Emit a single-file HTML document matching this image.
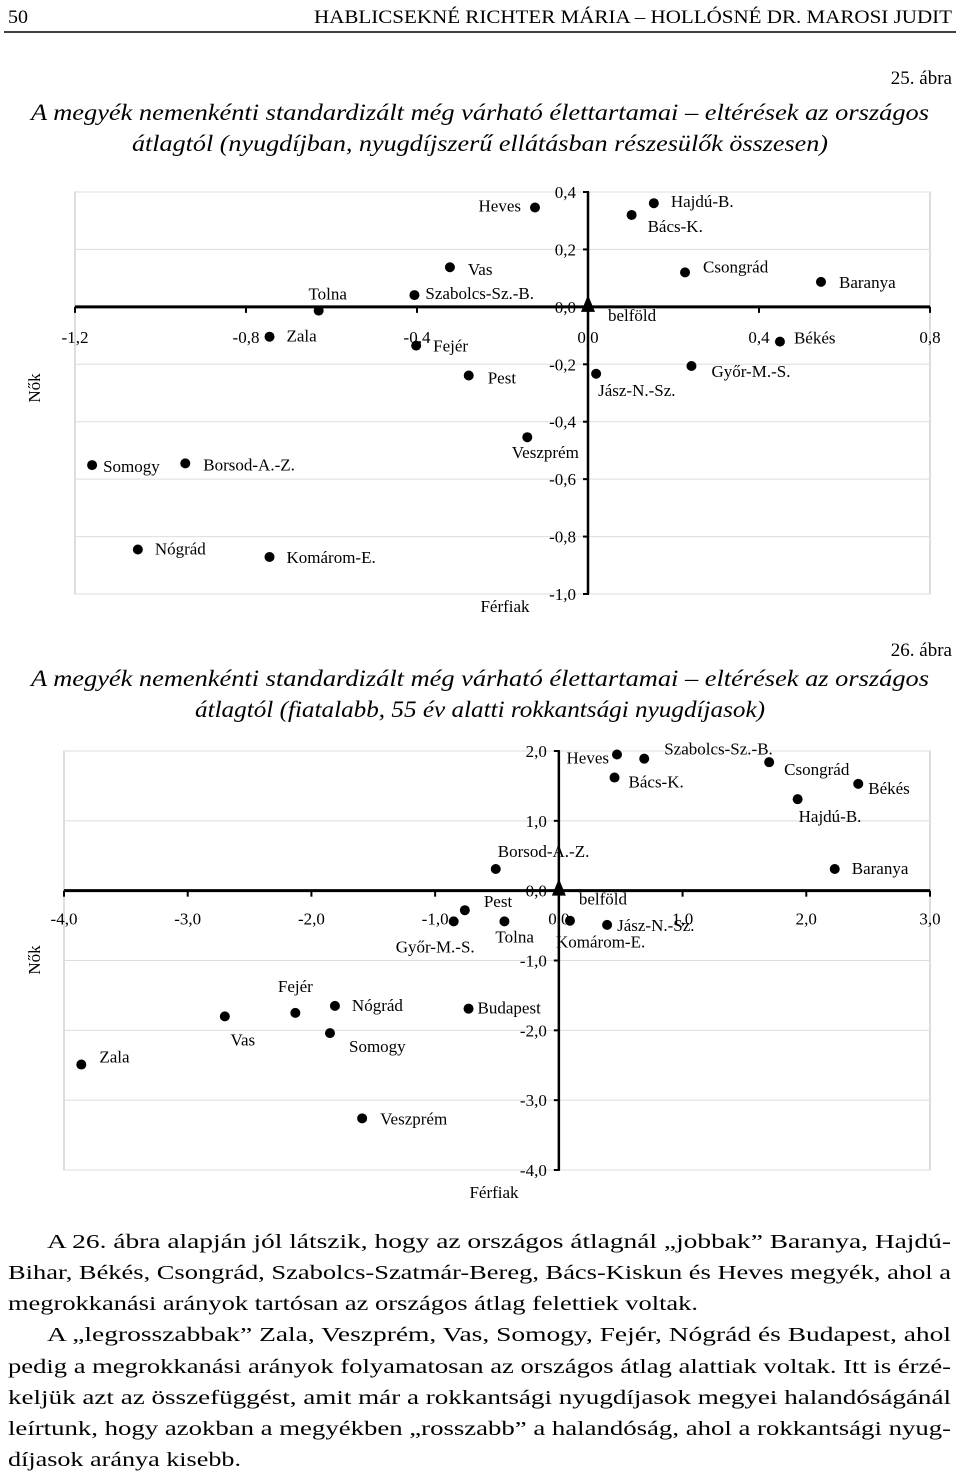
<!DOCTYPE html>
<html><head><meta charset="utf-8"><style>
html,body{margin:0;padding:0;background:#fff}
svg{display:block}
text{font-family:"Liberation Serif",serif;fill:#000}
</style></head><body>
<svg id="pg" width="960" height="1480" viewBox="0 0 960 1480">
<g>
<text x="8" y="23" font-size="19" textLength="20" lengthAdjust="spacingAndGlyphs">50</text>
<text x="952" y="23" font-size="19" text-anchor="end" textLength="638" lengthAdjust="spacingAndGlyphs">HABLICSEKNÉ RICHTER MÁRIA – HOLLÓSNÉ DR. MAROSI JUDIT</text>
<line x1="4" y1="32" x2="956" y2="32" stroke="#000" stroke-width="1.5"/>
</g>
<text x="952" y="84" font-size="19" text-anchor="end">25. ábra</text>
<text x="480" y="120" font-size="23" font-style="italic" text-anchor="middle" textLength="898" lengthAdjust="spacingAndGlyphs">A megyék nemenkénti standardizált még várható élettartamai – eltérések az országos</text>
<text x="480" y="151" font-size="23" font-style="italic" text-anchor="middle" textLength="696" lengthAdjust="spacingAndGlyphs">átlagtól (nyugdíjban, nyugdíjszerű ellátásban részesülők összesen)</text>
<g id="c1"></g>
<text x="952" y="656" font-size="19" text-anchor="end">26. ábra</text>
<text x="480" y="686" font-size="23" font-style="italic" text-anchor="middle" textLength="898" lengthAdjust="spacingAndGlyphs">A megyék nemenkénti standardizált még várható élettartamai – eltérések az országos</text>
<text x="480" y="717" font-size="23" font-style="italic" text-anchor="middle" textLength="570" lengthAdjust="spacingAndGlyphs">átlagtól (fiatalabb, 55 év alatti rokkantsági nyugdíjasok)</text>
<g id="c2"></g>
<g font-size="20">
<text x="47" y="1248" textLength="904" lengthAdjust="spacingAndGlyphs">A 26. ábra alapján jól látszik, hogy az országos átlagnál „jobbak” Baranya, Hajdú-</text>
<text x="8" y="1279" textLength="943" lengthAdjust="spacingAndGlyphs">Bihar, Békés, Csongrád, Szabolcs-Szatmár-Bereg, Bács-Kiskun és Heves megyék, ahol a</text>
<text x="8" y="1310" textLength="690" lengthAdjust="spacingAndGlyphs">megrokkanási arányok tartósan az országos átlag felettiek voltak.</text>
<text x="47" y="1341" textLength="904" lengthAdjust="spacingAndGlyphs">A „legrosszabbak” Zala, Veszprém, Vas, Somogy, Fejér, Nógrád és Budapest, ahol</text>
<text x="8" y="1373" textLength="943" lengthAdjust="spacingAndGlyphs">pedig a megrokkanási arányok folyamatosan az országos átlag alattiak voltak. Itt is érzé-</text>
<text x="8" y="1404" textLength="943" lengthAdjust="spacingAndGlyphs">keljük azt az összefüggést, amit már a rokkantsági nyugdíjasok megyei halandóságánál</text>
<text x="8" y="1435" textLength="943" lengthAdjust="spacingAndGlyphs">leírtunk, hogy azokban a megyékben „rosszabb” a halandóság, ahol a rokkantsági nyug-</text>
<text x="8" y="1466" textLength="233" lengthAdjust="spacingAndGlyphs">díjasok aránya kisebb.</text>
</g>
</svg>
<script>
// Chart 25 data
const names1 = ["Heves","Hajdú-B.","Bács-K.","Vas","Csongrád","Baranya","Tolna","Szabolcs-Sz.-B.","Zala","Fejér","Békés","Pest","Jász-N.-Sz.","Győr-M.-S.","Veszprém","Somogy","Borsod-A.-Z.","Nógrád","Komárom-E."];
const xVals1 = [-0.124,0.154,0.102,-0.323,0.227,0.545,-0.63,-0.406,-0.745,-0.402,0.449,-0.279,0.019,0.242,-0.142,-1.16,-0.942,-1.053,-0.745];
const yVals1 = [0.346,0.361,0.32,0.138,0.12,0.087,-0.013,0.041,-0.104,-0.135,-0.121,-0.239,-0.233,-0.206,-0.454,-0.551,-0.545,-0.845,-0.871];
const xTicks1 = [-1.2,-0.8,-0.4,0.0,0.4,0.8];
const yTicks1 = [0.4,0.2,0.0,-0.2,-0.4,-0.6,-0.8,-1.0];
// label layout offsets (not data)
const lab1 = [[-14,4,"end"],[17,4,"start"],[16,17,"start"],[18,8,"start"],[18,0,"start"],[18,6,"start"],[9,-11,"middle"],[11,4,"start"],[17,5,"start"],[17,6,"start"],[14,2,"start"],[19,8,"start"],[2,22,"start"],[20,11,"start"],[18,21,"middle"],[11,7,"start"],[18,7,"start"],[17,5,"start"],[17,6,"start"]];

// Chart 26 data
const names2 = ["Heves","Szabolcs-Sz.-B.","Csongrád","Bács-K.","Békés","Hajdú-B.","Borsod-A.-Z.","Baranya","Pest","Győr-M.-S.","Tolna","Komárom-E.","Jász-N.-Sz.","Fejér","Nógrád","Budapest","Vas","Somogy","Zala","Veszprém"];
const xVals2 = [0.47,0.69,1.70,0.45,2.42,1.93,-0.51,2.23,-0.76,-0.85,-0.44,0.09,0.39,-2.13,-1.81,-0.73,-2.70,-1.85,-3.86,-1.59];
const yVals2 = [1.95,1.89,1.84,1.62,1.53,1.31,0.31,0.31,-0.28,-0.44,-0.44,-0.43,-0.49,-1.75,-1.65,-1.69,-1.80,-2.04,-2.49,-3.26];
const xTicks2 = [-4,-3,-2,-1,0,1,2,3];
const yTicks2 = [2,1,0,-1,-2,-3,-4];
const lab2 = [[-8,9,"end"],[20,-4,"start"],[15,13,"start"],[14,10,"start"],[10,10,"start"],[1,23,"start"],[2,-12,"start"],[17,5,"start"],[19,-3,"start"],[-58,31,"start"],[-9,21,"start"],[-14,27,"start"],[10,6,"start"],[0,-21,"middle"],[17,5,"start"],[9,5,"start"],[18,29,"middle"],[19,19,"start"],[18,-2,"start"],[18,6,"start"]];

const NS="http://www.w3.org/2000/svg";
function mk(parent,tag,attrs,txt){const e=document.createElementNS(NS,tag);for(const k in attrs)e.setAttribute(k,attrs[k]);if(txt!==undefined)e.textContent=txt;parent.appendChild(e);return e;}
function fmt(v,d){return v.toFixed(d).replace('.',',');}

function chart(g,cfg,names,xs,ys,xt,yt,labs){
  const X=v=>cfg.x0+(v-cfg.xmin)/(cfg.xmax-cfg.xmin)*(cfg.x1-cfg.x0);
  const Y=v=>cfg.y1-(v-cfg.ymin)/(cfg.ymax-cfg.ymin)*(cfg.y1-cfg.y0);
  const ax=X(0), ay=Y(0);
  // frame + gridlines
  const fr=mk(g,'rect',{x:cfg.x0,y:cfg.y0,width:cfg.x1-cfg.x0,height:cfg.y1-cfg.y0,fill:'none',stroke:'#bbb','stroke-width':1});
  
  
  yt.forEach(v=>{ if(v!==0){const l=mk(g,'line',{x1:cfg.x0,x2:cfg.x1,y1:Y(v),y2:Y(v),stroke:'#ddd','stroke-width':1});
    
    }});
  // axes
  const xa=mk(g,'line',{x1:cfg.x0,x2:cfg.x1,y1:ay,y2:ay,stroke:'#000','stroke-width':3});
  
  
  const ya=mk(g,'line',{x1:ax,x2:ax,y1:cfg.y0,y2:cfg.y1,stroke:'#000','stroke-width':2.5});
  
  
  xt.forEach(v=>{
    mk(g,'line',{x1:X(v),x2:X(v),y1:ay,y2:ay+6,stroke:'#000','stroke-width':2});
    const t=mk(g,'text',{x:X(v),y:ay+cfg.xlDy,'font-size':17,'text-anchor':'middle'},fmt(v,1));
    
    
  });
  yt.forEach(v=>{
    mk(g,'line',{x1:ax-5,x2:ax+1,y1:Y(v),y2:Y(v),stroke:'#000','stroke-width':2});
    const t=mk(g,'text',{x:ax+cfg.ylDx,y:Y(v)+6,'font-size':17,'text-anchor':'end'},fmt(v,1));
    
    
  });
  // belföld triangle
  const tr=mk(g,'polygon',{points:`${ax},${ay-12} ${ax-7},${ay+5} ${ax+7},${ay+5}`,fill:'#000'});
  
  
  const bt=mk(g,'text',{x:ax+cfg.bDx,y:ay+14,'font-size':17},'belföld');
  
  
  names.forEach((n,i)=>{
    const px=X(xs[i]),py=Y(ys[i]);
    const c=mk(g,'circle',{cx:px,cy:py,r:5,fill:'#000'});
    
    
    const L=labs[i];
    const t=mk(g,'text',{x:px+L[0],y:py+L[1],'font-size':17,'text-anchor':L[2]},n);
    
    
  });
  const ft=mk(g,'text',{x:cfg.fx,y:cfg.fy,'font-size':17,'text-anchor':'middle'},'Férfiak');
  
  
  const nt=mk(g,'text',{x:0,y:0,'font-size':17,'text-anchor':'middle',transform:`translate(${cfg.nx},${cfg.ny}) rotate(-90)`},'Nők');
  
  
}
chart(document.getElementById('c1'),{x0:75,x1:930,y0:192,y1:594,xmin:-1.2,xmax:0.8,ymin:-1.0,ymax:0.4,xlDy:36,ylDx:-12,bDx:20,fx:505,fy:612,nx:40,ny:388},names1,xVals1,yVals1,xTicks1,yTicks1,lab1);
chart(document.getElementById('c2'),{x0:64,x1:930,y0:751,y1:1170,xmin:-4,xmax:3,ymin:-4,ymax:2,xlDy:34,ylDx:-12,bDx:20,fx:494,fy:1198,nx:40,ny:960},names2,xVals2,yVals2,xTicks2,yTicks2,lab2);
</script>
</body></html>
